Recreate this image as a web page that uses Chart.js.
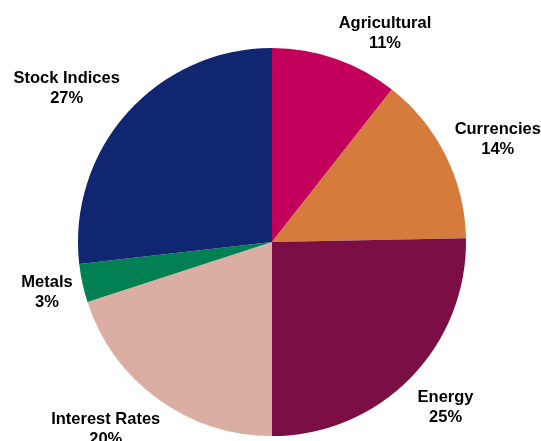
<!DOCTYPE html>
<html>
<head>
<meta charset="utf-8">
<script src="https://cdn.jsdelivr.net/npm/chart.js@4"></script>
<style>
  html, body { margin: 0; padding: 0; background: #fff; }
  #wrap { width: 541px; height: 441px; position: relative; }
</style>
</head>
<body>
<div id="wrap"><canvas id="myChart"></canvas></div>
<script>
const labels = ['Agricultural', 'Currencies', 'Energy', 'Interest Rates', 'Metals', 'Stock Indices'];
const shares = [10.6, 14.1, 25.3, 20.0, 3.2, 26.8];
const colors = ['#C2005B', '#D57C3D', '#7B0F45', '#DBAEA4', '#008053', '#102670'];

// labels outside each slice: name on top, rounded percent below
const outsideLabels = {
  id: 'outsideLabels',
  afterDraw(chart) {
    const ctx = chart.ctx;
    const meta = chart.getDatasetMeta(0);
    const total = shares.reduce((a, b) => a + b, 0);
    const lineH = 20;
    const clamp = v => Math.max(-1, Math.min(1, v));
    ctx.save();
    ctx.font = 'bold 16.5px "Liberation Sans", Arial, sans-serif';
    ctx.fillStyle = '#000';
    ctx.textAlign = 'center';
    ctx.textBaseline = 'middle';
    meta.data.forEach((arc, i) => {
      const p = arc.getProps(['x', 'y', 'startAngle', 'endAngle', 'outerRadius'], true);
      const mid = (p.startAngle + p.endAngle) / 2;
      const s = Math.cos(mid), c = Math.sin(mid);
      const px = p.x + (p.outerRadius + 10) * s;
      const py = p.y + (p.outerRadius + (c < 0 ? 6 : 8)) * c;
      const pct = Math.round(shares[i] / total * 100) + '%';
      const w = Math.max(ctx.measureText(labels[i]).width, ctx.measureText(pct).width);
      const cx = px + (w / 2) * clamp(4 * s) * (c > 0.5 && s < 0 ? 0.85 : 1);
      let cy = py + lineH * clamp(1.5 * c);
      if (c > 0) cy += 4 * clamp(1.5 * c);
      ctx.fillText(labels[i], cx, cy - lineH / 2);
      ctx.fillText(pct, cx, cy + lineH / 2);
    });
    ctx.restore();
  }
};

const data = {
  labels: labels,
  datasets: [{
    data: shares,
    backgroundColor: colors,
    borderWidth: 0
  }]
};

const config = {
  type: 'pie',
  data: data,
  options: {
    responsive: true,
    maintainAspectRatio: false,
    animation: false,
    layout: { padding: { top: 48, bottom: 5, left: 78, right: 75 } },
    plugins: {
      legend: { display: false },
      tooltip: { enabled: false },
      title: { display: false }
    }
  },
  plugins: [outsideLabels]
};

const myChart = new Chart(document.getElementById('myChart'), config);
</script>
</body>
</html>
